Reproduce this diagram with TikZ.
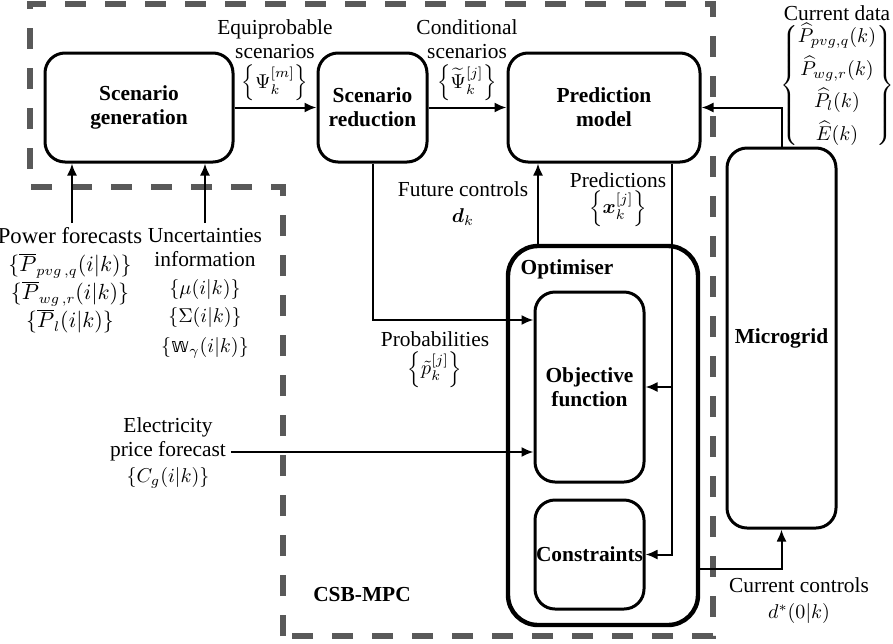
\documentclass[tikz,border=0pt]{standalone}
\usepackage{amsmath,amssymb,bm}
\usepackage{fontspec}
\setmainfont[Scale=1.07]{Liberation Serif}
\newfontfamily\dsfont{DejaVu Sans}
\newcommand{\dsw}{\text{\dsfont 𝕨}}
\usetikzlibrary{arrows.meta}

\begin{document}
\begin{tikzpicture}[x=0.5pt,y=-0.5pt, every path/.style={black,line width=1pt}, blk/.style={draw,line width=1.5pt,rounded corners=10pt,align=center,font=\bfseries,inner sep=0pt}, lbl/.style={align=center,inner sep=2pt}, arr/.style={-{Latex[length=6pt,width=5pt]}}, bnd/.style={draw=black!65,line width=3pt,dash pattern=on 10.5pt off 9.5pt}]
\useasboundingbox (0,0) rectangle (893,643);
\draw[bnd] (283,636) -- (283,187) -- (30,187) -- (30,4) -- (713,4) -- (713,636) -- cycle;
\node[blk, minimum width=94pt, minimum height=54.5pt] (gen) at (139,107.5) {Scenario\\generation};
\node[blk, minimum width=54.5pt, minimum height=54.5pt] (red) at (372.5,107.5) {Scenario\\reduction};
\node[blk, minimum width=96pt, minimum height=54.5pt] (pred) at (604,107.5) {Prediction\\model};
\node[blk, minimum width=54.5pt, minimum height=190pt] (mg) at (781.5,338) {Microgrid};
\node[blk, line width=2.2pt, rounded corners=15pt, minimum width=95pt, minimum height=189.5pt] (opt) at (603,435.5) {};
\node[font=\bfseries, inner sep=0pt] (optl) at (567,269) {Optimiser};
\node[blk, minimum width=54.5pt, minimum height=95pt] (obj) at (589.5,387) {Objective\\function};
\node[blk, minimum width=54.5pt, minimum height=54.5pt] (con) at (589.5,554.5) {Constraints};
\node[font=\bfseries, inner sep=0pt] (csb) at (362,595) {CSB-MPC};
\node[lbl, anchor=south] (eq) at (275,106) {Equiprobable\\[0pt]scenarios\\[3pt]$\left\{\Psi_k^{[m]}\right\}$};
\node[lbl, anchor=south] (cs) at (467,106) {Conditional\\[0pt]scenarios\\[3pt]$\left\{\widetilde{\Psi}_k^{[j]}\right\}$};
\node[lbl, anchor=north] (cd) at (837,1) {Current data\\$\left\{\begin{matrix}\widehat{P}_{pvg,q}(k)\\[3pt] \widehat{P}_{wg,r}(k)\\[3pt] \widehat{P}_l(k)\\[3pt] \widehat{E}(k)\end{matrix}\right\}$};
\node[lbl, anchor=north, font=\fontsize{10.6}{13}\selectfont] (pf) at (70,223) {Power forecasts\\[1pt]$\{\overline{P}_{pvg\,,q}(i|k)\}$\\[1pt]$\{\overline{P}_{wg\,,r}(i|k)\}$\\[1pt]$\{\overline{P}_l(i|k)\}$};
\node[lbl, anchor=north] (ui) at (205,223) {Uncertainties\\[0pt]information\\[2pt]$\{\mu(i|k)\}$\\[2pt]$\{\Sigma(i|k)\}$\\[3pt]$\left\{\dsw_\gamma(i|k)\right\}$};
\node[lbl] (fc) at (463,204) {Future controls\\[1pt]$\bm{d}_k$};
\node[lbl] (pj) at (618,200) {Predictions\\[1pt]$\left\{\bm{x}_k^{[j]}\right\}$};
\node[lbl] (pb) at (435,360) {Probabilities\\[2pt]$\left\{\tilde{p}_k^{[j]}\right\}$};
\node[lbl] (el) at (168,453) {Electricity\\[0pt]price forecast\\[1pt]$\{C_g(i|k)\}$};
\node[lbl] (cc) at (799,601) {Current controls\\[1pt]$d^{*}(0|k)$};
\coordinate (pa) at (0,320);
\coordinate (px) at (672,0);
\coordinate (fx) at (538,0);
\coordinate (oy) at (0,569);
\draw[arr] (gen) -- (red);
\draw[arr] (red) -- (pred);
\draw[arr] (mg.north) |- (pred.east);
\draw[arr] (pf.north -| 72,0) -- (gen.south -| 72,0);
\draw[arr] (ui.north) -- (ui.north |- gen.south);
\draw[arr] (red.south) |- (obj.west |- pa);
\draw[arr] (opt.north -| fx) -- (pred.south -| fx);
\draw[arr] (pred.south -| px) |- (con.east);
\draw[arr] (px |- obj.east) -- (obj.east);
\draw[arr] (el.east |- 0,452) -- (obj.west |- 0,452);
\draw[arr] (opt.east |- oy) -| (mg.south);
\end{tikzpicture}
\end{document}
